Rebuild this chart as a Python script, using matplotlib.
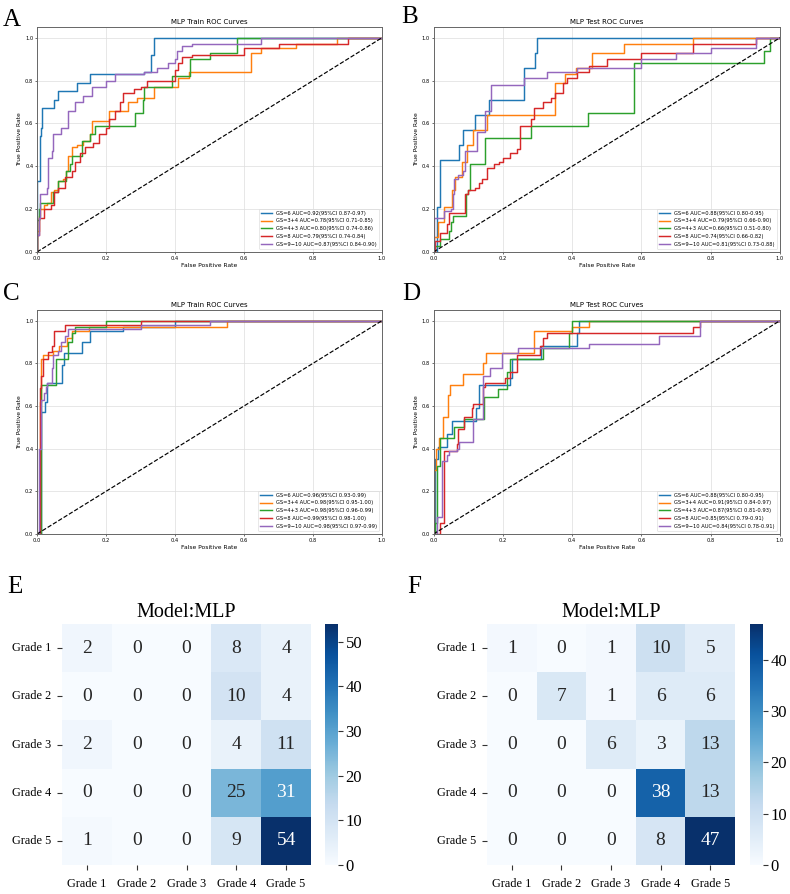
import numpy as np
import matplotlib
matplotlib.use("Agg")
import matplotlib.pyplot as plt
import seaborn as sns

# ---- ROC data (fpr / tpr corner points) ----
labels_a = ["GS=6 AUC=0.92(95%CI 0.87-0.97)", "GS=3+4 AUC=0.78(95%CI 0.71-0.85)",
            "GS=4+3 AUC=0.80(95%CI 0.74-0.86)", "GS=8 AUC=0.79(95%CI 0.74-0.84)",
            "GS=9−10 AUC=0.87(95%CI 0.84-0.90)"]
labels_b = ["GS=6 AUC=0.88(95%CI 0.80-0.95)", "GS=3+4 AUC=0.79(95%CI 0.66-0.90)",
            "GS=4+3 AUC=0.66(95%CI 0.51-0.80)", "GS=8 AUC=0.74(95%CI 0.66-0.82)",
            "GS=9−10 AUC=0.81(95%CI 0.73-0.88)"]
labels_c = ["GS=6 AUC=0.96(95%CI 0.93-0.99)", "GS=3+4 AUC=0.98(95%CI 0.95-1.00)",
            "GS=4+3 AUC=0.98(95%CI 0.96-0.99)", "GS=8 AUC=0.99(95%CI 0.98-1.00)",
            "GS=9−10 AUC=0.98(95%CI 0.97-0.99)"]
labels_d = ["GS=6 AUC=0.88(95%CI 0.80-0.95)", "GS=3+4 AUC=0.91(95%CI 0.84-0.97)",
            "GS=4+3 AUC=0.87(95%CI 0.81-0.93)", "GS=8 AUC=0.85(95%CI 0.79-0.91)",
            "GS=9−10 AUC=0.84(95%CI 0.78-0.91)"]

# A: train (first model)
a_gs6_fpr = [0, 0, 0.01, 0.012, 0.015, 0.05, 0.062, 0.115, 0.154, 0.31, 0.33, 0.34, 1.0]
a_gs6_tpr = [0, 0.33, 0.54, 0.58, 0.67, 0.71, 0.75, 0.79, 0.83, 0.84, 0.92, 1.0, 1.0]
a_gs34_fpr = [0, 0, 0.005, 0.01, 0.02, 0.03, 0.04, 0.05, 0.06, 0.075, 0.085, 0.09, 0.1, 0.115,
              0.134, 0.154, 0.16, 0.21, 0.265, 0.29, 0.34, 0.41, 0.44, 0.62, 0.65, 0.75, 0.87, 1.0]
a_gs34_tpr = [0, 0.1, 0.17, 0.2, 0.22, 0.23, 0.28, 0.29, 0.33, 0.34, 0.38, 0.45, 0.49, 0.5,
              0.52, 0.55, 0.61, 0.66, 0.70, 0.72, 0.77, 0.81, 0.84, 0.93, 0.95, 0.97, 1.0, 1.0]
a_gs43_fpr = [0, 0, 0.005, 0.01, 0.045, 0.06, 0.085, 0.095, 0.1, 0.13, 0.154, 0.168, 0.284,
              0.308, 0.31, 0.39, 0.443, 0.5, 0.58, 1.0]
a_gs43_tpr = [0, 0.15, 0.2, 0.23, 0.28, 0.33, 0.38, 0.41, 0.45, 0.52, 0.55, 0.59, 0.65,
              0.71, 0.77, 0.82, 0.9, 0.93, 1.0, 1.0]
a_gs8_fpr = [0, 0, 0.005, 0.02, 0.04, 0.05, 0.06, 0.08, 0.1, 0.11, 0.125, 0.14, 0.163, 0.18, 0.2,
             0.21, 0.225, 0.24, 0.25, 0.28, 0.3, 0.32, 0.4, 0.41, 0.42, 0.45, 0.6, 0.7, 0.9, 1.0]
a_gs8_tpr = [0, 0.08, 0.16, 0.2, 0.22, 0.28, 0.3, 0.35, 0.38, 0.42, 0.46, 0.49, 0.51, 0.55, 0.58,
             0.62, 0.66, 0.70, 0.74, 0.76, 0.77, 0.80, 0.85, 0.88, 0.91, 0.92, 0.95, 0.97, 1.0, 1.0]
a_gs910_fpr = [0, 0, 0.007, 0.01, 0.03, 0.033, 0.043, 0.047, 0.07, 0.09, 0.11, 0.134, 0.158, 0.2,
               0.226, 0.31, 0.347, 0.38, 0.4, 0.405, 0.42, 0.45, 0.65, 1.0]
a_gs910_tpr = [0, 0.08, 0.16, 0.27, 0.3, 0.44, 0.47, 0.55, 0.58, 0.66, 0.70, 0.73, 0.77, 0.80,
               0.83, 0.84, 0.86, 0.88, 0.9, 0.94, 0.96, 0.97, 1.0, 1.0]

# B: test (first model)
b_gs6_fpr = [0, 0.01, 0.02, 0.074, 0.085, 0.12, 0.16, 0.26, 0.293, 0.3, 1.0]
b_gs6_tpr = [0, 0.21, 0.43, 0.5, 0.57, 0.64, 0.71, 0.86, 0.93, 1.0, 1.0]
b_gs34_fpr = [0, 0, 0.014, 0.029, 0.053, 0.062, 0.082, 0.096, 0.113, 0.154, 0.35, 0.38, 0.41,
              0.457, 0.55, 0.75, 1.0]
b_gs34_tpr = [0, 0.07, 0.14, 0.21, 0.29, 0.35, 0.42, 0.5, 0.57, 0.64, 0.79, 0.83, 0.86,
              0.93, 0.97, 1.0, 1.0]
b_gs43_fpr = [0, 0.005, 0.02, 0.045, 0.05, 0.055, 0.095, 0.1, 0.105, 0.148, 0.15, 0.28, 0.447,
              0.58, 0.955, 0.97, 1.0]
b_gs43_tpr = [0, 0.03, 0.06, 0.1, 0.14, 0.17, 0.27, 0.29, 0.41, 0.47, 0.53, 0.59, 0.65,
              0.88, 0.94, 1.0, 1.0]
b_gs8_fpr = [0, 0.005, 0.02, 0.04, 0.045, 0.09, 0.1, 0.12, 0.13, 0.14, 0.155, 0.175, 0.19, 0.2,
             0.22, 0.24, 0.25, 0.28, 0.29, 0.315, 0.34, 0.35, 0.375, 0.385, 0.414, 0.45, 0.5,
             0.6, 0.75, 0.93, 1.0]
b_gs8_tpr = [0, 0.05, 0.09, 0.13, 0.18, 0.27, 0.29, 0.3, 0.32, 0.34, 0.39, 0.41, 0.42, 0.44,
             0.46, 0.48, 0.59, 0.62, 0.67, 0.70, 0.72, 0.74, 0.79, 0.81, 0.84, 0.87, 0.9,
             0.93, 0.97, 1.0, 1.0]
b_gs910_fpr = [0, 0, 0.03, 0.05, 0.055, 0.06, 0.07, 0.085, 0.09, 0.126, 0.15, 0.167, 0.26,
               0.327, 0.415, 0.6, 0.7, 0.8, 0.93, 1.0]
b_gs910_tpr = [0, 0.16, 0.19, 0.2, 0.27, 0.34, 0.36, 0.38, 0.47, 0.56, 0.66, 0.78, 0.81,
               0.84, 0.86, 0.9, 0.93, 0.95, 1.0, 1.0]

# C: train (second model)
c_gs6_fpr = [0, 0.012, 0.023, 0.03, 0.072, 0.078, 0.13, 0.154, 0.25, 0.4, 1.0]
c_gs6_tpr = [0, 0.57, 0.62, 0.71, 0.79, 0.85, 0.90, 0.95, 0.97, 1.0, 1.0]
c_gs34_fpr = [0, 0.01, 0.013, 0.018, 0.047, 0.063, 0.086, 0.1, 0.15, 0.55, 1.0]
c_gs34_tpr = [0, 0.62, 0.82, 0.84, 0.86, 0.88, 0.92, 0.95, 0.97, 1.0, 1.0]
c_gs43_fpr = [0, 0.012, 0.055, 0.09, 0.1, 0.11, 0.2, 1.0]
c_gs43_tpr = [0, 0.70, 0.82, 0.90, 0.94, 0.97, 1.0, 1.0]
c_gs8_fpr = [0, 0.009, 0.012, 0.018, 0.033, 0.043, 0.05, 0.08, 0.3, 1.0]
c_gs8_tpr = [0, 0.685, 0.74, 0.82, 0.855, 0.88, 0.95, 0.98, 1.0, 1.0]
c_gs910_fpr = [0, 0.006, 0.012, 0.02, 0.025, 0.03, 0.043, 0.047, 0.06, 0.07, 0.08, 0.09, 0.3,
               0.5, 1.0]
c_gs910_tpr = [0, 0.4, 0.63, 0.66, 0.69, 0.71, 0.78, 0.84, 0.86, 0.9, 0.93, 0.96, 0.98,
               1.0, 1.0]

# D: test (second model)
d_gs6_fpr = [0, 0.003, 0.0125, 0.038, 0.053, 0.123, 0.13, 0.22, 0.226, 0.31, 0.413, 0.42, 1.0]
d_gs6_tpr = [0, 0.35, 0.41, 0.47, 0.53, 0.59, 0.70, 0.73, 0.82, 0.88, 0.94, 1.0, 1.0]
d_gs34_fpr = [0, 0, 0.008, 0.017, 0.027, 0.043, 0.048, 0.084, 0.144, 0.152, 0.29, 0.4, 0.45, 1.0]
d_gs34_tpr = [0, 0.30, 0.40, 0.45, 0.55, 0.65, 0.70, 0.75, 0.80, 0.85, 0.95, 0.97, 1.0, 1.0]
d_gs43_fpr = [0, 0.005, 0.0115, 0.019, 0.058, 0.087, 0.146, 0.1875, 0.213, 0.22, 0.315, 0.39,
              0.4, 1.0]
d_gs43_tpr = [0, 0.05, 0.32, 0.45, 0.5, 0.54, 0.64, 0.68, 0.76, 0.82, 0.87, 0.94, 1.0, 1.0]
d_gs8_fpr = [0, 0.02, 0.029, 0.067, 0.072, 0.087, 0.11, 0.115, 0.144, 0.149, 0.207, 0.221,
             0.242, 0.308, 0.317, 0.327, 0.75, 0.77, 1.0]
d_gs8_tpr = [0, 0.05, 0.39, 0.42, 0.49, 0.55, 0.59, 0.61, 0.69, 0.71, 0.73, 0.76, 0.84, 0.88,
             0.92, 0.94, 0.97, 1.0, 1.0]
d_gs910_fpr = [0, 0.01, 0.024, 0.038, 0.046, 0.067, 0.075, 0.113, 0.144, 0.163, 0.197, 0.245,
               0.45, 0.65, 0.77, 1.0]
d_gs910_tpr = [0, 0.08, 0.34, 0.37, 0.39, 0.40, 0.43, 0.54, 0.74, 0.78, 0.85, 0.87, 0.89,
               0.93, 1.0, 1.0]

# ---- confusion matrices ----
grades = ["Grade 1", "Grade 2", "Grade 3", "Grade 4", "Grade 5"]
cm_e = np.array([[2, 0, 0, 8, 4],
                 [0, 0, 0, 10, 4],
                 [2, 0, 0, 4, 11],
                 [0, 0, 0, 25, 31],
                 [1, 0, 0, 9, 54]])
cm_f = np.array([[1, 0, 1, 10, 5],
                 [0, 7, 1, 6, 6],
                 [0, 0, 6, 3, 13],
                 [0, 0, 0, 38, 13],
                 [0, 0, 0, 8, 47]])

farger = ["tab:blue", "tab:orange", "tab:green", "tab:red", "tab:purple"]
W, H = 790, 894

fig = plt.figure(figsize=(W / 100, H / 100), dpi=100)


def rect(left, top, right, bottom):
    # pixel box -> figure fraction
    return [left / W, 1 - bottom / H, (right - left) / W, (bottom - top) / H]


def roc_panel(box, title, curves, labels):
    ax = fig.add_axes(box)
    for (fpr, tpr), lab, col in zip(curves, labels, farger):
        ax.plot(fpr, tpr, drawstyle="steps-post", color=col, lw=1.05, label=lab)
    ax.plot([0, 1], [0, 1], "k--", lw=0.85)
    ax.set_xlim(0, 1)
    ax.set_ylim(0, 1.05)
    ax.set_xticks(np.arange(0, 1.01, 0.2))
    ax.set_yticks(np.arange(0, 1.01, 0.2))
    ax.grid(True, color="#dddddd", lw=0.5)
    ax.tick_params(labelsize=3.7, length=1.5, width=0.4, pad=1.2)
    ax.set_title(title, fontsize=5, pad=2.5)
    ax.set_xlabel("False Positive Rate", fontsize=4.3, labelpad=1.5)
    ax.set_ylabel("True Positive Rate", fontsize=4.3, labelpad=2)
    for sp in ax.spines.values():
        sp.set_color("#666666")
        sp.set_linewidth(0.7)
    leg = ax.legend(loc="lower right", fontsize=3.7, frameon=True, borderaxespad=0.6,
                    handlelength=2.2, labelspacing=0.55)
    leg.get_frame().set_linewidth(0.4)
    return ax


roc_panel(rect(37, 27, 382, 252), "MLP Train ROC Curves",
          [(a_gs6_fpr, a_gs6_tpr), (a_gs34_fpr, a_gs34_tpr), (a_gs43_fpr, a_gs43_tpr),
           (a_gs8_fpr, a_gs8_tpr), (a_gs910_fpr, a_gs910_tpr)], labels_a)
roc_panel(rect(433.5, 27, 780, 252), "MLP Test ROC Curves",
          [(b_gs6_fpr, b_gs6_tpr), (b_gs34_fpr, b_gs34_tpr), (b_gs43_fpr, b_gs43_tpr),
           (b_gs8_fpr, b_gs8_tpr), (b_gs910_fpr, b_gs910_tpr)], labels_b)
roc_panel(rect(37, 310, 382, 534), "MLP Train ROC Curves",
          [(c_gs6_fpr, c_gs6_tpr), (c_gs34_fpr, c_gs34_tpr), (c_gs43_fpr, c_gs43_tpr),
           (c_gs8_fpr, c_gs8_tpr), (c_gs910_fpr, c_gs910_tpr)], labels_c)
roc_panel(rect(433.5, 310, 780, 534), "MLP Test ROC Curves",
          [(d_gs6_fpr, d_gs6_tpr), (d_gs34_fpr, d_gs34_tpr), (d_gs43_fpr, d_gs43_tpr),
           (d_gs8_fpr, d_gs8_tpr), (d_gs910_fpr, d_gs910_tpr)], labels_d)

serif = "Liberation Serif"


def cm_panel(box, cbox, data):
    ax = fig.add_axes(box)
    cax = fig.add_axes(cbox)
    sns.heatmap(data, annot=True, fmt="d", cmap="Blues", ax=ax, cbar_ax=cax,
                xticklabels=grades, yticklabels=grades,
                annot_kws={"size": 14, "family": serif})
    ax.set_title("Model:MLP", fontsize=14.5, family=serif, pad=5)
    ax.tick_params(axis="both", length=3.5, width=0.8, pad=4, left=True, bottom=True,
                   color="#333333")
    ax.tick_params(axis="x", pad=6)
    for t in ax.get_xticklabels():
        t.set_family(serif)
        t.set_fontsize(8.8)
        t.set_rotation(0)
    for t in ax.get_yticklabels():
        t.set_family(serif)
        t.set_fontsize(8.8)
        t.set_rotation(0)
    cax.tick_params(length=3.5, width=0.8, pad=2, right=True, color="#333333")
    for t in cax.get_yticklabels():
        t.set_family(serif)
        t.set_fontsize(12)


cm_panel(rect(62, 624, 311, 865), rect(325, 624, 338, 865), cm_e)
cm_panel(rect(487, 624, 735, 865), rect(750, 624, 763, 865), cm_f)

# panel letters
for bokstav, x, y in [("A", 3, 26), ("B", 401, 23), ("C", 3, 300), ("D", 402, 300),
                      ("E", 7, 593), ("F", 407, 593)]:
    fig.text(x / W, 1 - y / H, bokstav, fontsize=18, family=serif, va="baseline", ha="left")

fig.savefig("out.png", dpi=100)
